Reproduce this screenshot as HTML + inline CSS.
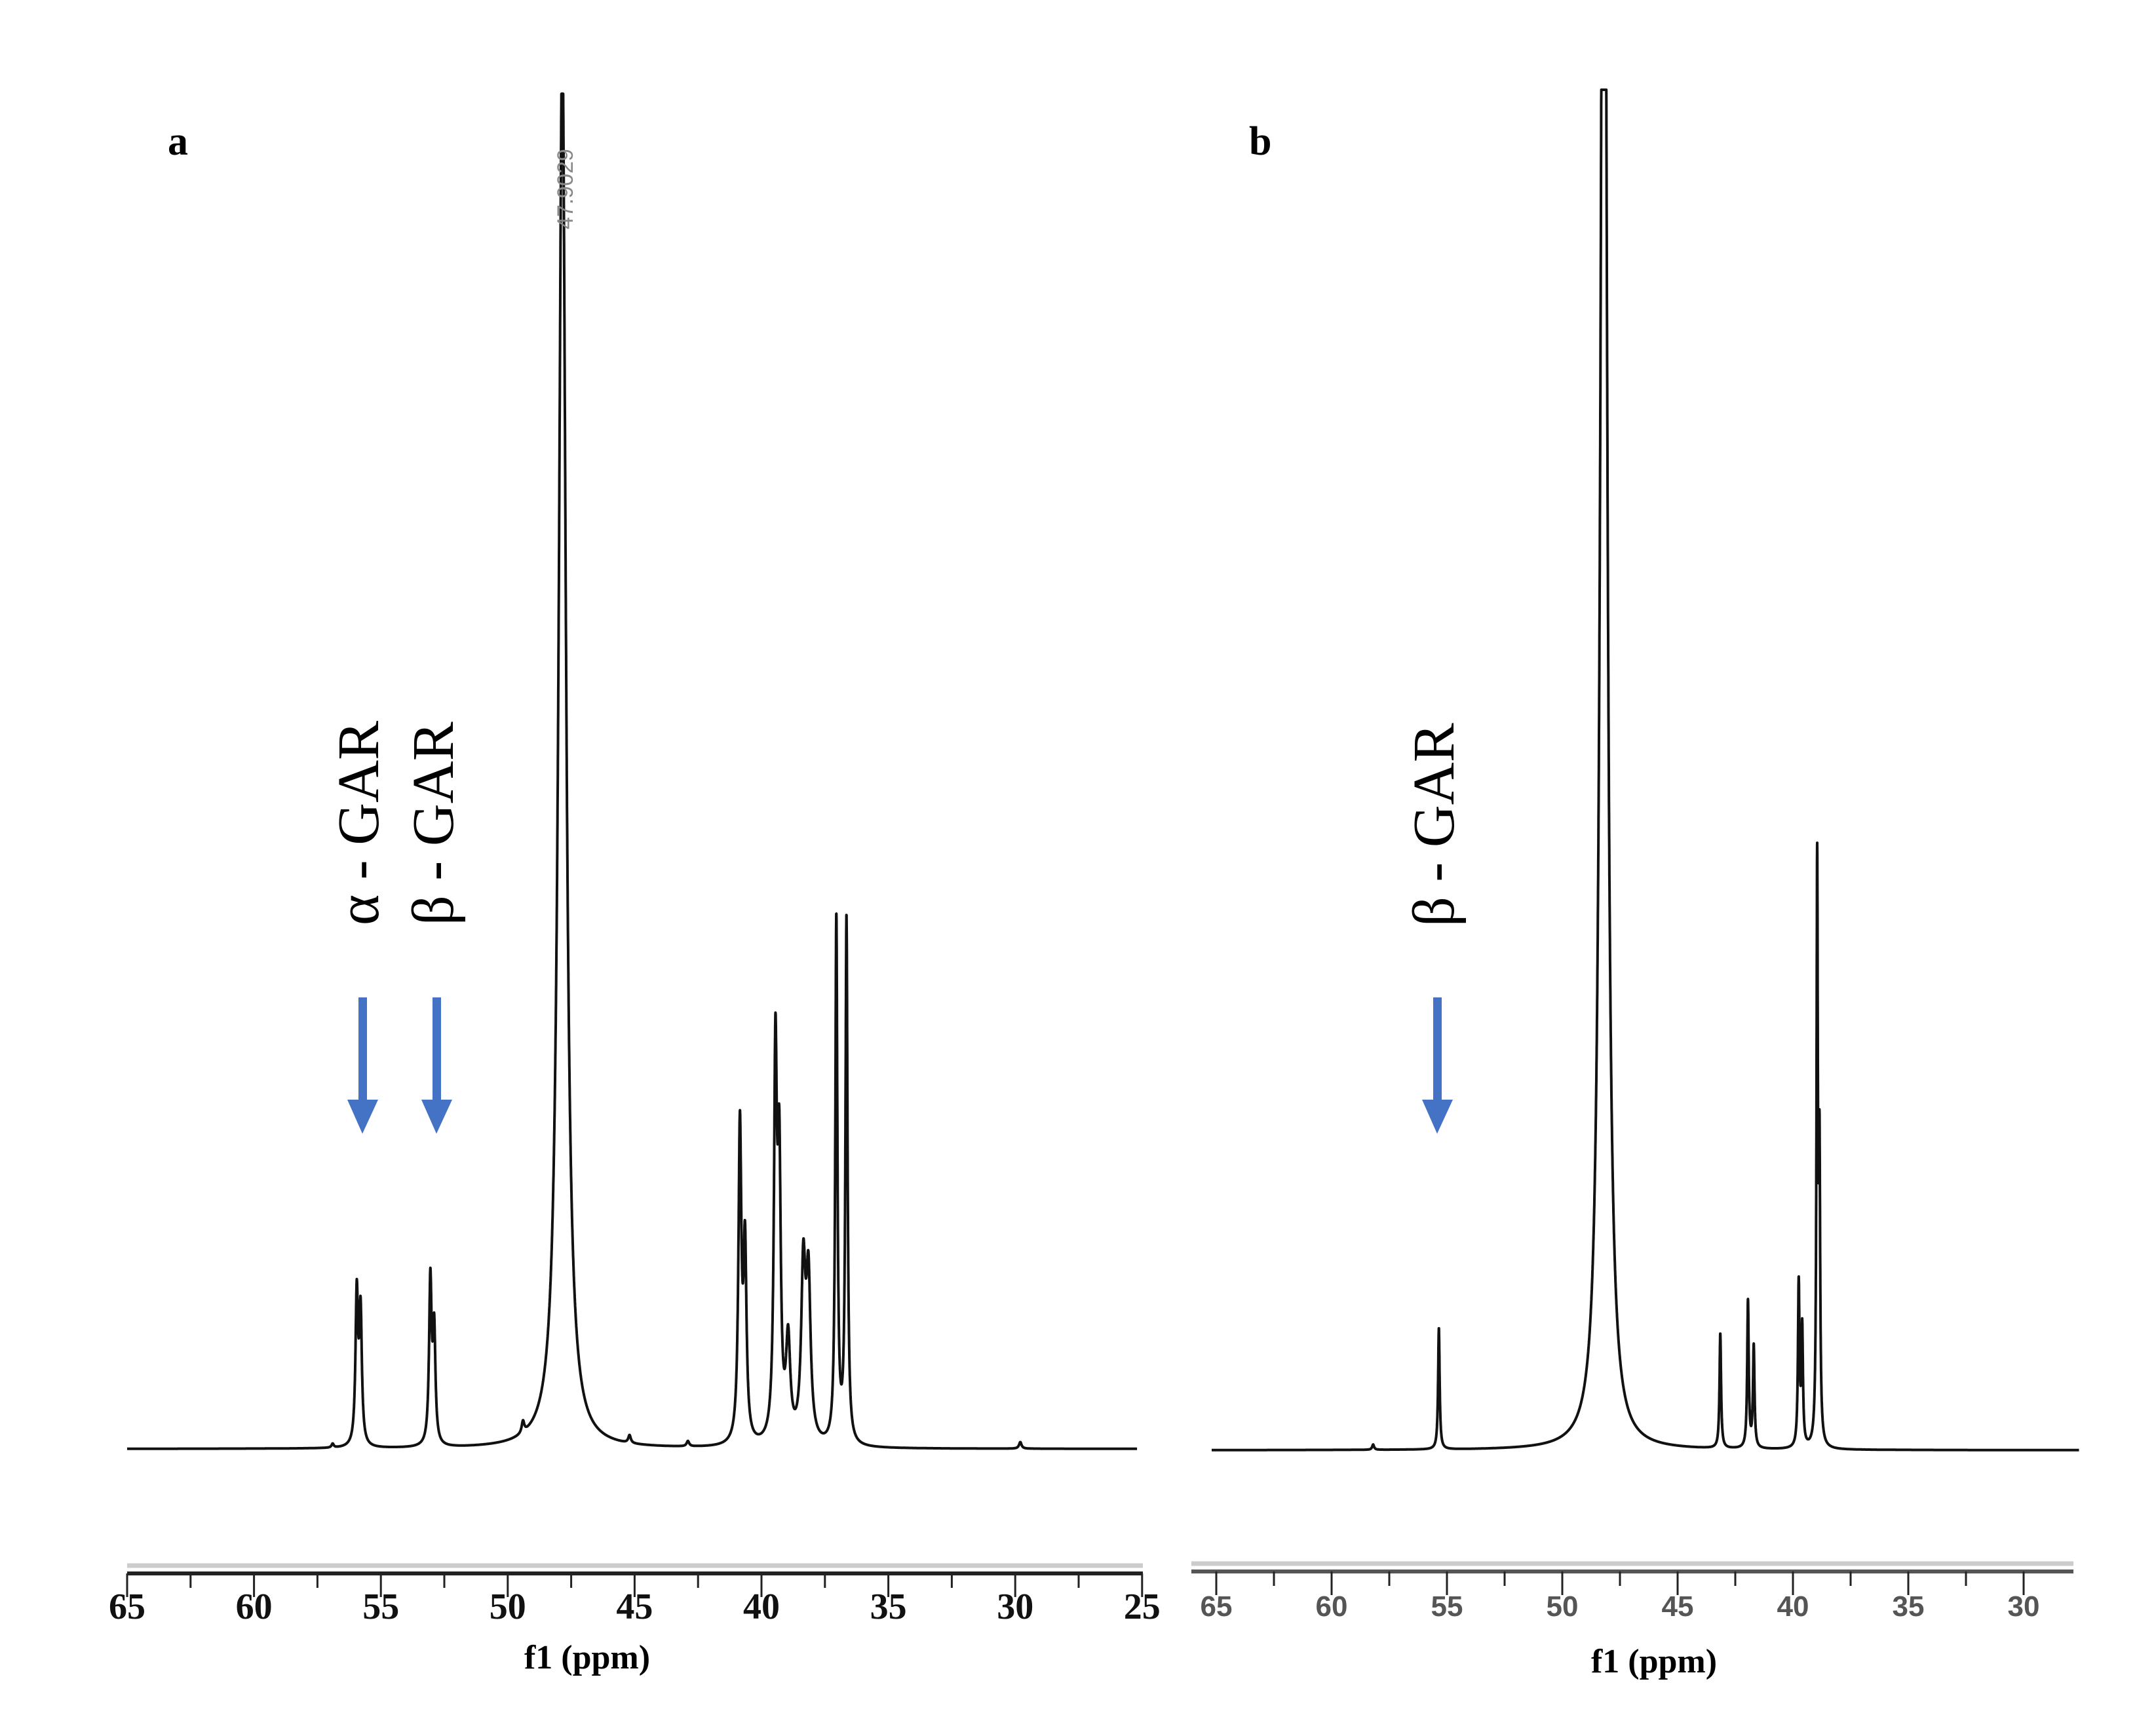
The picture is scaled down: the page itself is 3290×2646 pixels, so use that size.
<!DOCTYPE html>
<html><head><meta charset="utf-8"><style>
html,body{margin:0;padding:0;background:#fff;}
svg{display:block;}
</style></head><body>
<svg id="fig" width="3290" height="2646" viewBox="0 0 3290 2646" xmlns="http://www.w3.org/2000/svg">
<rect width="3290" height="2646" fill="#fff"/>
<g id="panelA"></g>
<g id="panelB"></g>
<text x="256" y="236" font-family="Liberation Serif, serif" font-weight="bold" font-size="62">a</text>
<text x="1906" y="236" font-family="Liberation Serif, serif" font-weight="bold" font-size="62">b</text>
<text transform="translate(874,350) rotate(-90)" font-family="Liberation Sans, sans-serif" font-size="34" fill="#888">47.9029</text>
<text transform="translate(577,1412) rotate(-90)" font-family="Liberation Serif, serif" font-size="90">α - GAR</text>
<text transform="translate(691,1412) rotate(-90)" font-family="Liberation Serif, serif" font-size="90">β - GAR</text>
<text transform="translate(2218,1414) rotate(-90)" font-family="Liberation Serif, serif" font-size="90">β - GAR</text>
<g fill="#4472C4">
<g><rect x="547" y="1522" width="13" height="160"/><polygon points="530,1678 577,1678 553,1730"/></g>
<g><rect x="660" y="1522" width="13" height="160"/><polygon points="643,1678 690,1678 666,1730"/></g>
<g><rect x="2187" y="1522" width="13" height="160"/><polygon points="2170,1678 2217,1678 2193,1730"/></g>
</g>
</svg>
<script>
// Panel a data (ppm, height in px above baseline, half-width ppm)
const aPpm    = [56.9, 55.95, 55.8, 53.05, 52.9, 49.4, 47.85, 45.2, 42.9, 40.85, 40.65, 39.45, 39.3, 38.95, 38.35, 38.15, 37.05, 36.65, 29.8];
const aHeight = [6,    230,   200,  250,   170,  18,   2150,  12,   8,    480,   290,   580,   400,   150,   260,   240,   800,   800,   10];
const aWidth  = [0.05, 0.06,  0.06, 0.06,  0.06, 0.06, 0.17,  0.06, 0.06, 0.07,  0.07,  0.07,  0.07,  0.1,   0.1,   0.1,   0.05,  0.05,  0.06];
const aTicks  = [65, 60, 55, 50, 45, 40, 35, 30, 25];
// Panel b data
const bPpm    = [58.2, 55.35, 48.2, 43.15, 41.95, 41.7, 39.75, 39.6, 38.95, 38.85];
const bHeight = [8,    185,   3200, 175,   225,   155,  250,   180,  880,   420];
const bWidth  = [0.05, 0.04,  0.15, 0.04,  0.04,  0.04, 0.04,  0.04, 0.035, 0.035];
const bTicks  = [65, 60, 55, 50, 45, 40, 35, 30];

const NS = 'http://www.w3.org/2000/svg';
function mk(tag, attrs, parent){ const e=document.createElementNS(NS,tag); for(const k in attrs) e.setAttribute(k,attrs[k]); parent.appendChild(e); return e; }

function drawPanel(g, cfg, ppm, hgt, wid, ticks, nm){
  const xs = v => cfg.x0 + (cfg.p0 - v) * cfg.pxPerPpm;
  const ys = h => cfg.base - h;
  let d = '';
  for (let p = cfg.pStart; p >= cfg.pEnd; p -= 0.004) {
    let s = 0;
    for (let i = 0; i < ppm.length; i++) { const u = (p - ppm[i]) / wid[i]; s += hgt[i] / (1 + u*u); }
    let y = Math.max(ys(s), cfg.top);
    d += (d ? 'L' : 'M') + xs(p).toFixed(1) + ',' + y.toFixed(1);
  }
  const path = mk('path', {d:d, fill:'none', stroke:'#111', 'stroke-width':4, 'stroke-linejoin':'round'}, g);
  
  
  const ax = mk('g', {}, g);
  
  
  mk('line', {x1:cfg.axL, x2:cfg.axR, y1:cfg.grayY, y2:cfg.grayY, stroke:'#ccc', 'stroke-width':7}, ax);
  mk('line', {x1:cfg.axL, x2:cfg.axR, y1:cfg.axY, y2:cfg.axY, stroke:cfg.axColor, 'stroke-width':6}, ax);
  for (let v = ticks[0]; v >= ticks[ticks.length-1] - 0.01; v -= 2.5) {
    const major = Math.abs(v - Math.round(v/5)*5) < 0.01;
    mk('line', {x1:xs(v), x2:xs(v), y1:cfg.axY, y2:cfg.axY + (major?36:22), stroke:'#222', 'stroke-width':3}, ax);
  }
  ticks.forEach(t => {
    const tx = mk('text', {x:xs(t), y:cfg.lblY, 'text-anchor':'middle', 'font-family':cfg.font, 'font-weight':'bold', 'font-size':cfg.fs, fill:cfg.lblColor}, ax);
    
    
    tx.textContent = t;
  });
  const tl = mk('text', {x:cfg.titleX, y:cfg.titleY, 'text-anchor':'middle', 'font-family':'Liberation Serif, serif', 'font-weight':'bold', 'font-size':52}, ax);
  
  
  tl.textContent = 'f1 (ppm)';
}

drawPanel(document.getElementById('panelA'),
  {x0:194, p0:65, pxPerPpm:38.72, base:2211, top:143, pStart:65, pEnd:25.2,
   axL:194, axR:1744, grayY:2389, axY:2401, axColor:'#222', lblY:2470, fs:56, font:'Liberation Serif, serif', lblColor:'#111', titleX:896, titleY:2546},
  aPpm, aHeight, aWidth, aTicks, 'panel-a');
drawPanel(document.getElementById('panelB'),
  {x0:1856, p0:65, pxPerPpm:35.2, base:2213, top:137, pStart:65.2, pEnd:27.6,
   axL:1818, axR:3164, grayY:2386, axY:2398, axColor:'#555', lblY:2466, fs:44, font:'Liberation Sans, sans-serif', lblColor:'#555', titleX:2524, titleY:2552},
  bPpm, bHeight, bWidth, bTicks, 'panel-b');
</script>
</body></html>
